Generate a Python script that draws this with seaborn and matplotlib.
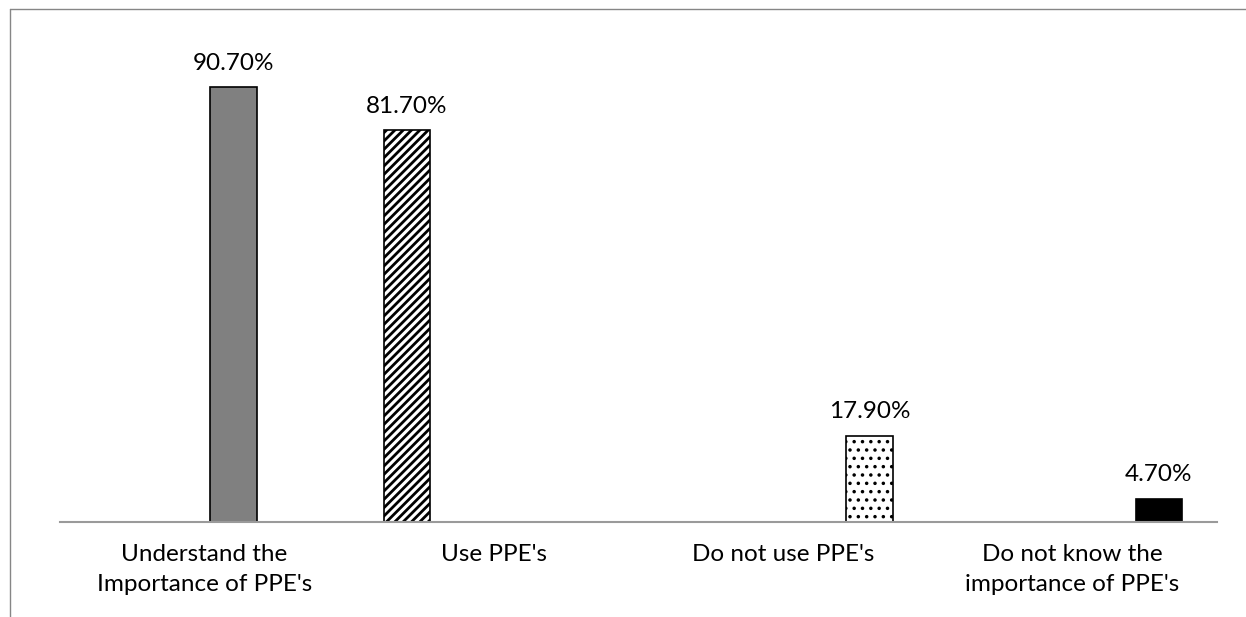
import matplotlib
matplotlib.use("Agg")
import matplotlib.pyplot as plt
from matplotlib.lines import Line2D
import seaborn as sns
import pandas as pd

# Survey responses on personal protective equipment
categories = [
    "Understand the\nImportance of PPE's",
    "Use PPE's",
    "Do not use PPE's",
    "Do not know the\nimportance of PPE's",
]
percentages = [90.7, 81.7, 17.9, 4.7]

# Layout: offset of each bar from its category centre, bar styling
bar_offsets = [0.1, -0.3, 0.3, 0.3]
bar_colors = ["#808080", "white", "white", "black"]
bar_hatches = [None, "////", "..", None]
hatch_widths = [1.0, 2.0, 1.3, 1.0]
bar_width = 0.161

sns.set_theme(style="white")
plt.rcParams["font.family"] = ["Lato", "DejaVu Sans"]
plt.rcParams["hatch.linewidth"] = 2.0
plt.rcParams["hatch.color"] = "black"

df = pd.DataFrame({
    "category": categories,
    "pos": [i + off for i, off in enumerate(bar_offsets)],
    "pct": percentages,
})

fig = plt.figure(figsize=(12.46, 6.17), dpi=100)
ax = fig.add_axes([60 / 1246, 95.5 / 617, 1156.7 / 1246, 478.6 / 617])

positions = sorted(df["pos"].to_numpy())
min_gap = min(b - a for a, b in zip(positions[:-1], positions[1:]) if b - a > 1e-9)

sns.barplot(
    data=df, x="pos", y="pct", hue="category", hue_order=categories,
    palette=dict(zip(categories, bar_colors)), native_scale=True, dodge=False,
    width=bar_width / min_gap, edgecolor="black", linewidth=1.2,
    legend=False, ax=ax,
)

for container, hatch, hlw, value in zip(ax.containers, bar_hatches,
                                        hatch_widths, percentages):
    for patch in container:
        if hatch:
            patch.set_hatch(hatch)
            if hasattr(patch, "set_hatch_linewidth"):
                patch.set_hatch_linewidth(hlw)
    ax.bar_label(container, labels=[f"{value:.2f}%"], padding=10,
                 fontsize=17.5, color="black")

ax.set_xlim(-0.5, len(categories) - 0.5)
ax.set_ylim(0, 100)
ax.set_xticks(range(len(categories)))
ax.set_xticklabels(categories, fontsize=17.5, linespacing=1.55, color="black")
ax.tick_params(axis="x", length=0, pad=16)
ax.set_yticks([])
ax.set_xlabel("")
ax.set_ylabel("")
for side in ["top", "right", "left"]:
    ax.spines[side].set_visible(False)
ax.spines["bottom"].set_color("#9a9a9a")
ax.spines["bottom"].set_linewidth(1.5)

# Chart area border along the top and left edges
fig.add_artist(Line2D([10 / 1246, 1.0], [1 - 9 / 617, 1 - 9 / 617],
                      transform=fig.transFigure, color="#868686", lw=1.0))
fig.add_artist(Line2D([10 / 1246, 10 / 1246], [0.0, 1 - 9 / 617],
                      transform=fig.transFigure, color="#868686", lw=1.0))

fig.savefig("out.png", dpi=100, facecolor="white")
